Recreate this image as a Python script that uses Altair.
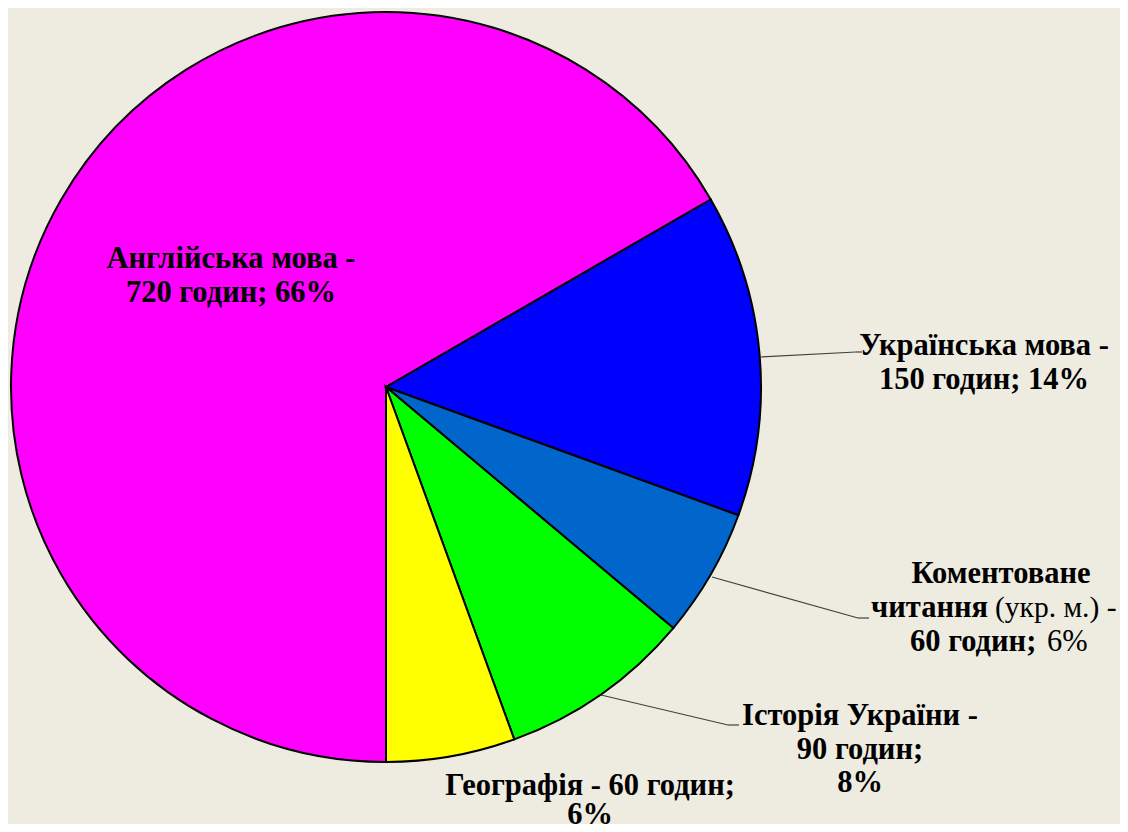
import math
import altair as alt
import pandas as pd

subjects = ["Англійська мова", "Українська мова", "Коментоване читання (укр. м.)",
            "Історія України", "Географія"]
hours = [720, 150, 60, 90, 60]
percents = [66, 14, 6, 8, 6]
colors = ["#FF00FF", "#0000FF", "#0066CC", "#00FF00", "#FFFF00"]

BG = "#EEEBE0"
FONT = "Liberation Serif"
FS = 30.5
LH = 33.5
OFF = 8  # page margin

df = pd.DataFrame({"subject": subjects, "hours": hours, "order": list(range(len(subjects)))})

pie = alt.Chart(df).mark_arc(outerRadius=375, stroke="black", strokeWidth=2).encode(
    theta=alt.Theta("hours:Q", stack=True, scale=alt.Scale(range=[math.pi, 3 * math.pi])),
    color=alt.Color("subject:N", scale=alt.Scale(domain=subjects, range=colors), legend=None),
    order=alt.Order("order:Q"),
    x=alt.value(386 - OFF),
    y=alt.value(387 - OFF),
)

one = pd.DataFrame({"k": [0]})


def txt(px, py, lines, weight="bold", align="center", size=FS, lh=LH):
    return alt.Chart(one).mark_text(
        font=FONT, fontSize=size, fontWeight=weight, align=align, baseline="alphabetic",
        lineHeight=lh, color="black"
    ).encode(x=alt.value(px - OFF), y=alt.value(py - OFF), text=alt.value(lines))


def seg(x1, y1, x2, y2):
    return alt.Chart(one).mark_rule(color="#404040", strokeWidth=1.2).encode(
        x=alt.value(x1 - OFF), y=alt.value(y1 - OFF),
        x2=alt.value(x2 - OFF), y2=alt.value(y2 - OFF))


def l1(i):
    return f"{subjects[i]} -"


def l2(i):
    return f"{hours[i]} годин; {percents[i]}%"


kom_w1, kom_w2, kom_w3 = subjects[2].split(" ", 2)

layers = [
    pie,
    seg(761, 357, 856, 352), seg(856, 352, 862, 352),
    seg(712, 577, 858, 618), seg(858, 618, 869, 618),
    seg(601, 695, 728, 725), seg(728, 725, 739, 725),
    txt(231, 268, [l1(0), l2(0)]),
    txt(984, 355, [l1(1), l2(1)]),
    txt(1001, 583, [kom_w1]),
    txt(871, 617, [kom_w2], align="left"),
    txt(995, 617, [kom_w3 + " -"], weight="normal", align="left", size=29.5),
    txt(910, 651, [f"{hours[2]} годин;"], align="left"),
    txt(1047, 651, [f"{percents[2]}%"], weight="normal", align="left"),
    txt(860, 725, [l1(3), f"{hours[3]} годин;", f"{percents[3]}%"]),
    txt(590, 795, [f"{subjects[4]} - {hours[4]} годин;", f"{percents[4]}%"], lh=29),
]

chart = alt.layer(*layers).properties(
    width=1128 - 2 * OFF, height=832 - 2 * OFF,
    autosize=alt.AutoSizeParams(type="none"), padding=0,
    background=BG,
).configure_view(stroke=None)

chart.save("out.html", embed_options={"renderer": "svg", "actions": False})
